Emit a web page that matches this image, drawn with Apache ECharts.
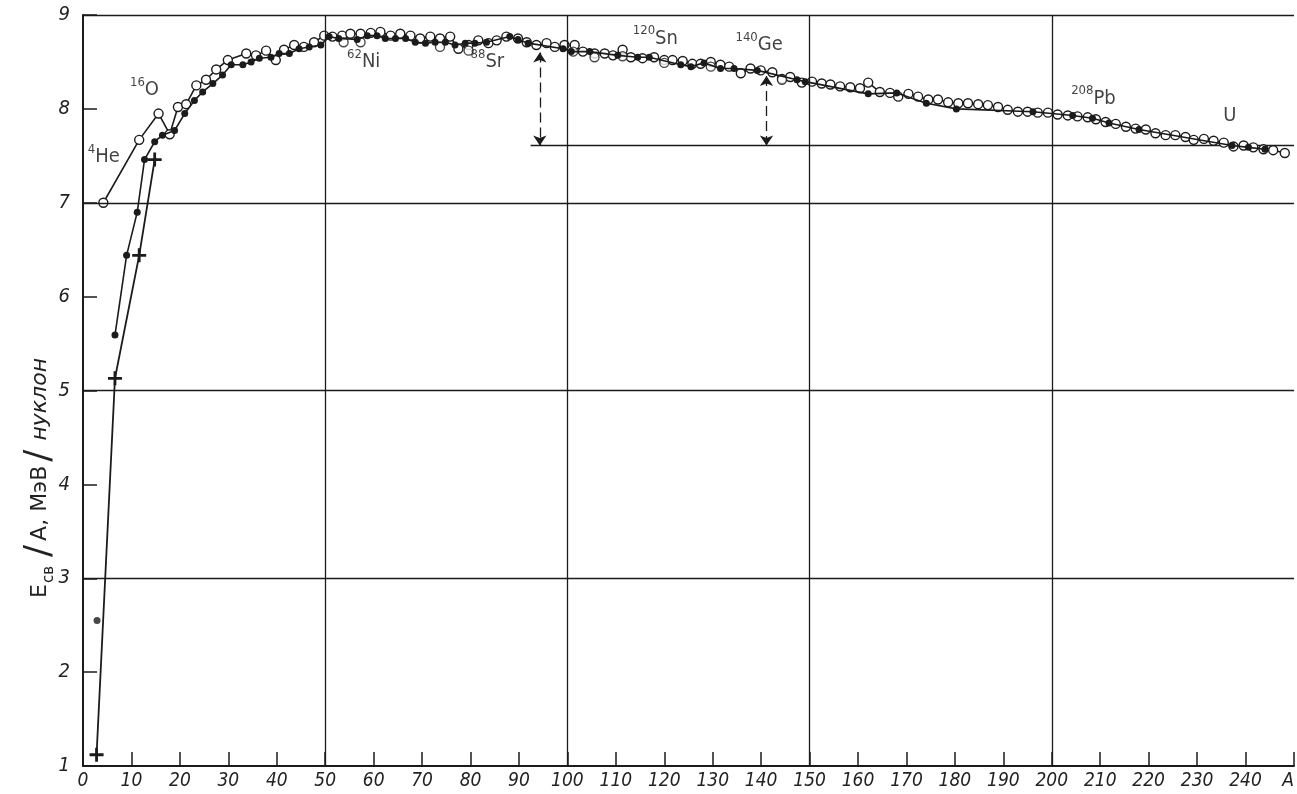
<!DOCTYPE html>
<html>
<head>
<meta charset="utf-8">
<script src="https://cdn.jsdelivr.net/npm/echarts@6/dist/echarts.min.js"></script>
<style>
html, body { margin: 0; background: #fff; }
#chart { width: 1297px; height: 794px; }
</style>
</head>
<body>
<div id="chart"></div>
<script>
// ===== данные =====
// открытые кружки (A, Eсв/A)
var openPts = [
  [4.2, 7.00], [11.6, 7.67], [15.6, 7.95], [17.9, 7.73], [19.6, 8.02], [21.3, 8.05], [23.4, 8.25], [25.4, 8.31],
  [27.5, 8.42], [29.9, 8.52], [33.7, 8.59], [35.7, 8.57], [37.8, 8.62], [39.8, 8.52], [41.5, 8.63], [43.6, 8.68],
  [45.6, 8.66], [47.7, 8.71], [49.8, 8.78], [51.5, 8.77], [53.5, 8.78], [55.2, 8.80], [57.3, 8.80], [59.4, 8.81],
  [61.4, 8.82], [63.5, 8.78], [65.5, 8.80], [67.6, 8.78], [69.6, 8.75], [71.7, 8.77], [73.7, 8.75], [75.8, 8.77],
  [77.5, 8.64], [79.6, 8.68], [81.6, 8.73], [83.7, 8.70], [85.4, 8.73], [87.4, 8.77], [89.8, 8.75], [91.6, 8.71],
  [93.6, 8.68], [95.7, 8.70], [97.4, 8.66], [99.4, 8.68], [101.5, 8.68], [103.2, 8.61], [105.6, 8.59], [107.7, 8.59],
  [109.4, 8.57], [111.4, 8.63], [113.1, 8.55], [115.5, 8.54], [117.9, 8.55], [120.0, 8.52], [121.7, 8.52], [123.8, 8.51],
  [125.8, 8.48], [127.5, 8.48], [129.6, 8.50], [131.6, 8.47], [133.4, 8.45], [135.8, 8.38], [137.8, 8.43], [139.9, 8.41],
  [142.3, 8.39], [144.3, 8.32], [146.0, 8.34], [148.4, 8.28], [150.5, 8.29], [152.5, 8.27], [154.3, 8.26], [156.3, 8.24],
  [158.4, 8.23], [160.4, 8.22], [162.1, 8.28], [164.5, 8.18], [166.6, 8.17], [168.3, 8.13], [170.4, 8.16], [172.4, 8.13],
  [174.5, 8.10], [176.5, 8.10], [178.6, 8.07], [180.7, 8.06], [182.7, 8.06], [184.8, 8.05], [186.8, 8.04], [188.9, 8.02],
  [190.9, 7.99], [193.0, 7.97], [195.0, 7.97], [197.1, 7.96], [199.2, 7.96], [201.2, 7.94], [203.3, 7.93], [205.3, 7.92],
  [207.4, 7.91], [209.1, 7.89], [211.1, 7.86], [213.2, 7.84], [215.3, 7.81], [217.3, 7.79], [219.4, 7.78], [221.4, 7.74],
  [223.5, 7.72], [225.5, 7.72], [227.6, 7.70], [229.3, 7.67], [231.4, 7.68], [233.4, 7.66], [235.5, 7.64], [237.5, 7.60],
  [239.6, 7.61], [241.6, 7.59], [243.7, 7.57], [245.7, 7.56], [248.1, 7.53]
];
// отдельные кружки вне цепочки
var openExtra = [
  [53.8, 8.71], [57.3, 8.71], [73.7, 8.66], [79.6, 8.62], [101.2, 8.61], [105.6, 8.55], [111.4, 8.56],
  [120.0, 8.49], [129.6, 8.45], [144.3, 8.31]
];
// зачернённые точки
var filledPts = [
  [6.6, 5.59], [9.0, 6.44], [11.2, 6.90], [12.7, 7.46], [14.8, 7.65], [16.4, 7.72], [18.9, 7.77], [21.0, 7.95],
  [23.0, 8.09], [24.7, 8.18], [26.8, 8.27], [28.8, 8.36], [30.6, 8.47], [33.0, 8.47], [34.7, 8.50], [36.4, 8.54],
  [38.8, 8.55], [40.5, 8.59], [42.6, 8.59], [44.6, 8.64], [46.7, 8.66], [49.1, 8.68], [50.8, 8.77], [52.8, 8.75],
  [56.6, 8.74], [58.7, 8.78], [60.7, 8.78], [62.4, 8.75], [64.5, 8.75], [66.6, 8.75], [68.6, 8.71], [70.7, 8.70],
  [72.7, 8.71], [74.8, 8.71], [76.8, 8.68], [78.9, 8.70], [80.9, 8.70], [83.3, 8.71], [88.1, 8.77], [89.8, 8.74],
  [91.9, 8.70], [99.1, 8.64], [100.8, 8.61], [104.6, 8.61], [110.4, 8.57], [114.5, 8.55], [116.9, 8.55], [123.4, 8.47],
  [125.5, 8.45], [128.2, 8.49], [131.6, 8.43], [134.4, 8.43], [139.2, 8.41], [147.4, 8.31], [149.1, 8.29], [162.1, 8.16],
  [168.0, 8.17], [174.1, 8.06], [180.3, 8.00], [196.1, 7.97], [204.3, 7.93], [208.4, 7.90], [211.8, 7.85], [218.0, 7.78],
  [237.2, 7.61], [240.6, 7.59], [244.0, 7.57]
];
var he3Pt = [[2.9, 2.55]];
// крестики
var crossPts = [[2.8, 1.12], [6.6, 5.13], [11.6, 6.44], [14.8, 7.46]];

// подписи ядер
var nucMass = ['4', '16', '62', '88', '120', '140', '208', ''];
var nucName = ['He', 'O', 'Ni', 'Sr', 'Sn', 'Ge', 'Pb', 'U'];
var nucX = [1.0, 9.7, 54.5, 80.0, 113.5, 134.7, 204.0, 235.4];
var nucY = [7.49, 8.20, 8.50, 8.50, 8.75, 8.68, 8.11, 7.93];

// линии сетки
var gridX = [50, 100, 150, 200];
var gridY = [3, 5, 7, 9];

// уровень отсчёта и стрелки
var baseY = 7.61;
var baseX = [92.4, 250];
var arrowX = [94.3, 141.1];
var arrowTop = [8.60, 8.35];

var FONT = '"DejaVu Sans Condensed", "DejaVu Sans", sans-serif';
var INK = '#1b1b1b';

var myChart = echarts.init(document.getElementById('chart'));

var nucData = [];
for (var i = 0; i < nucName.length; i++) {
  nucData.push({ value: [nucX[i], nucY[i]], mass: nucMass[i], el: nucName[i] });
}
var arrowData = [];
for (var j = 0; j < arrowX.length; j++) {
  arrowData.push({ coords: [[arrowX[j], arrowTop[j]], [arrowX[j], baseY]] });
}
var gridLines = [];
gridX.forEach(function (v) { gridLines.push({ xAxis: v }); });
gridY.forEach(function (v) { gridLines.push({ yAxis: v }); });

var option = {
  backgroundColor: '#fff',
  animation: false,
  grid: { left: 83, right: -2, top: 15, bottom: 28 },
  xAxis: {
    type: 'value', min: 0, max: 250, interval: 10,
    axisLine: { show: true, onZero: false, lineStyle: { color: INK, width: 2 } },
    axisTick: { show: true, inside: true, length: 14, lineStyle: { color: INK, width: 1.5 } },
    axisLabel: {
      fontFamily: FONT, fontStyle: 'italic', fontSize: 19, color: '#222', margin: 6,
      showMaxLabel: true, alignMaxLabel: 'right',
      formatter: function (v) { return v === 250 ? 'A' : v; }
    },
    splitLine: { show: false }
  },
  yAxis: {
    type: 'value', min: 1, max: 9, interval: 1,
    axisLine: { show: true, onZero: false, lineStyle: { color: INK, width: 2 } },
    axisTick: { show: true, inside: true, length: 14, lineStyle: { color: INK, width: 1.5 } },
    axisLabel: { fontFamily: FONT, fontStyle: 'italic', fontSize: 20, color: '#222', margin: 13 },
    splitLine: { show: false }
  },
  graphic: [{
    type: 'text', x: 40, y: 478, rotation: Math.PI / 2,
    style: {
      text: '{a|E}{s|св}{b|/}{a|A, МэВ}{b|/}{c|нуклон}',
      align: 'center', verticalAlign: 'middle', fill: '#222',
      rich: {
        a: { fontFamily: 'DejaVu Sans', fontSize: 22, lineHeight: 34, fill: '#222' },
        c: { fontFamily: 'DejaVu Sans', fontStyle: 'italic', fontSize: 22, lineHeight: 34, fill: '#222', padding: [0, 0, 0, 5] },
        s: { fontFamily: 'DejaVu Sans', fontSize: 15, lineHeight: 22, verticalAlign: 'bottom', fill: '#222', padding: [0, 5, 0, 1] },
        b: { fontFamily: 'DejaVu Sans', fontSize: 36, lineHeight: 34, fill: '#222', padding: [0, 4, 0, 4] }
      }
    }
  }],
  series: [{
    name: 'база', type: 'line', data: [[baseX[0], baseY], [baseX[1], baseY]],
    symbol: 'none', lineStyle: { color: INK, width: 1.3 }, z: 1,
    markLine: {
      silent: true, symbol: 'none', label: { show: false },
      lineStyle: { color: INK, width: 1.3, type: 'solid' },
      data: gridLines
    }
  }, {
    name: 'стрелки', type: 'lines', coordinateSystem: 'cartesian2d',
    symbol: ['arrow', 'arrow'], symbolSize: 10,
    lineStyle: { color: INK, width: 1.3, type: [10, 5], opacity: 1 },
    data: arrowData, z: 2
  }, {
    name: 'крестики', type: 'line', data: crossPts,
    symbol: 'path://M4,0h2v4h4v2h-4v4h-2v-4h-4v-2h4z', symbolSize: 14,
    itemStyle: { color: INK }, lineStyle: { color: INK, width: 1.8 }, z: 3
  }, {
    name: 'кружки', type: 'line', data: openPts,
    symbol: 'circle', symbolSize: 9, showAllSymbol: true,
    itemStyle: { color: '#fff', borderColor: INK, borderWidth: 1.4 },
    lineStyle: { color: INK, width: 1.6 }, z: 4
  }, {
    name: 'кружки2', type: 'scatter', data: openExtra,
    symbol: 'circle', symbolSize: 9,
    itemStyle: { color: '#fff', borderColor: INK, borderWidth: 1.4 }, z: 4
  }, {
    name: 'точки', type: 'line', data: filledPts,
    symbol: 'circle', symbolSize: 7, showAllSymbol: true,
    itemStyle: { color: INK }, lineStyle: { color: INK, width: 1.6 }, z: 5
  }, {
    name: 'He3', type: 'scatter', data: he3Pt,
    symbol: 'circle', symbolSize: 7, itemStyle: { color: INK }, z: 5
  }, {
    name: 'подписи', type: 'scatter', data: nucData, symbolSize: 0, z: 6,
    label: {
      show: true, position: 'right', distance: 0,
      formatter: function (p) {
        return (p.data.mass ? '{m|' + p.data.mass + '}' : '') + '{e|' + p.data.el + '}';
      },
      rich: {
        m: { fontFamily: FONT, fontSize: 13, lineHeight: 14, verticalAlign: 'top', color: '#111' },
        e: { fontFamily: FONT, fontSize: 20, lineHeight: 28, color: '#111' }
      }
    }
  }]
};

myChart.setOption(option);
</script>
</body>
</html>
